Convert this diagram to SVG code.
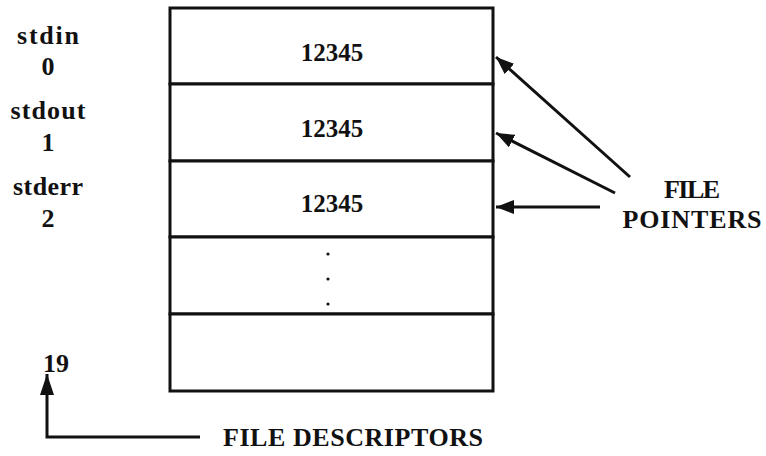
<svg xmlns="http://www.w3.org/2000/svg" width="766" height="456" viewBox="0 0 766 456">
<style>
text{font-family:"Liberation Serif","Times New Roman",serif;font-weight:bold;fill:#111;}
.lbl{font-size:26px;text-anchor:middle;}
.val{font-size:25px;text-anchor:middle;}
.cap{font-size:26px;text-anchor:middle;}
.cell{fill:#fff;stroke:#111;stroke-width:3;}
.conn{fill:none;stroke:#111;stroke-width:3;}
</style>
<defs>
<marker id="ah" markerUnits="userSpaceOnUse" markerWidth="20" markerHeight="14" refX="18" refY="7" orient="auto">
<path d="M0,0 L18,7 L0,14 Z" fill="#111"/>
</marker>
<marker id="ahu" markerUnits="userSpaceOnUse" markerWidth="22" markerHeight="14" refX="21" refY="7" orient="auto">
<path d="M0,0 L21,7 L0,14 Z" fill="#111"/>
</marker>
</defs>
<g id="table">
<g id="fd0"><rect class="cell" x="170" y="8" width="323" height="76"/><text class="val" x="332" y="61">12345</text></g>
<g id="fd1"><rect class="cell" x="170" y="84" width="323" height="77"/><text class="val" x="332" y="137">12345</text></g>
<g id="fd2"><rect class="cell" x="170" y="161" width="323" height="76"/><text class="val" x="332" y="212">12345</text></g>
<g id="fdmid"><rect class="cell" x="170" y="237" width="323" height="77"/>
<circle cx="328" cy="254" r="1.6" fill="#111"/><circle cx="328" cy="279" r="1.6" fill="#111"/><circle cx="328" cy="304" r="1.6" fill="#111"/></g>
<g id="fd19"><rect class="cell" x="170" y="314" width="323" height="77"/></g>
</g>
<g id="labels">
<g id="l0"><text class="lbl" x="48" y="44" textLength="62" lengthAdjust="spacing">stdin</text><text class="lbl" x="48" y="75">0</text></g>
<g id="l1"><text class="lbl" x="48" y="119" textLength="75" lengthAdjust="spacing">stdout</text><text class="lbl" x="48" y="151">1</text></g>
<g id="l2"><text class="lbl" x="48" y="195" textLength="70" lengthAdjust="spacing">stderr</text><text class="lbl" x="48" y="227">2</text></g>
<g id="l19"><text class="lbl" x="56" y="372">19</text></g>
<g id="fp"><text class="cap" x="692" y="198" textLength="56" lengthAdjust="spacing">FILE</text><text class="cap" x="692" y="228" textLength="139" lengthAdjust="spacing">POINTERS</text></g>
<g id="fdl"><text class="cap" x="353" y="446" textLength="260" lengthAdjust="spacing">FILE DESCRIPTORS</text></g>
</g>
<g id="connectors">
<line class="conn" x1="630" y1="177" x2="496" y2="57" marker-end="url(#ah)"/>
<line class="conn" x1="615" y1="193" x2="496" y2="133" marker-end="url(#ah)"/>
<line class="conn" x1="600" y1="207" x2="496" y2="207" marker-end="url(#ah)"/>
<polyline class="conn" points="200,437 47,437 47,374" marker-end="url(#ahu)"/>
</g>
</svg>
